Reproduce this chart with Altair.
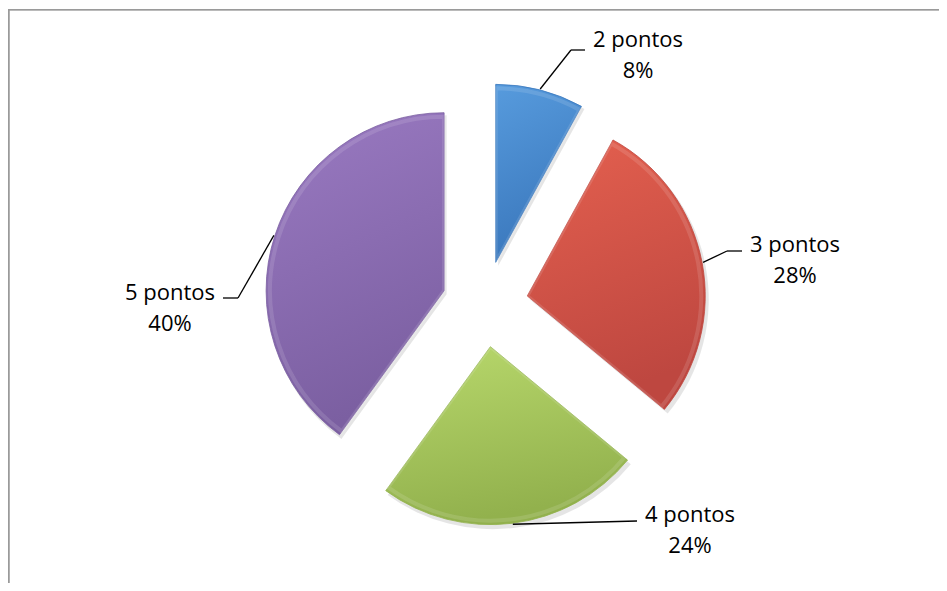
import altair as alt
import pandas as pd

# ---- data ----
categories = ["2 pontos", "3 pontos", "4 pontos", "5 pontos"]
percents = [8, 28, 24, 40]
pct_labels = ["8%", "28%", "24%", "40%"]

# ---- colours (light top, dark bottom) ----
top_colors = ["#579BDD", "#E4604F", "#B8D86C", "#9A7AC2"]
bottom_colors = ["#3A77BC", "#BE4740", "#92B14D", "#7B5FA1"]

# ---- layout (chart coordinates) ----
W, H = 931, 575
CX, CY = 477, 296
R = 178
EXPLODE = 43
label_cx = [630, 787, 682, 162]
label_base = [39, 244, 514, 292]
leader_end = [577, 734, 629, 215]
leader_y = [42, 243, 513, 290]
elbow_dx = [-14, -15, 0, 15]

df = pd.DataFrame({
    "cat": categories,
    "pct": percents,
    "plab": pct_labels,
    "order": list(range(len(categories))),
    "lcx": label_cx,
    "lby": label_base,
    "lend": leader_end,
    "ly": leader_y,
    "edx": elbow_dx,
})

base = (
    alt.Chart(df)
    .transform_joinaggregate(total="sum(pct)")
    .transform_window(cum="sum(pct)", sort=[alt.SortField("order")])
    .transform_calculate(
        t0="(datum.cum - datum.pct) / datum.total * 2 * PI",
        t1="datum.cum / datum.total * 2 * PI",
    )
    .transform_calculate(mid="(datum.t0 + datum.t1) / 2")
    .transform_calculate(
        ax=f"{CX} + {EXPLODE} * sin(datum.mid)",
        ay=f"{CY} - {EXPLODE} * cos(datum.mid)",
    )
    .transform_calculate(
        sx="datum.ax + 2.5",
        sy="datum.ay + 3.5",
        lx0=f"datum.ax + {R + 1} * sin(datum.mid)",
        ly0=f"datum.ay - {R + 1} * cos(datum.mid)",
        ex="datum.lend + datum.edx",
        txt="datum.cat + '\\n' + datum.plab",
    )
)

def pos(xf, yf):
    return dict(
        x=alt.X(f"{xf}:Q", scale=None, axis=None),
        y=alt.Y(f"{yf}:Q", scale=None, axis=None),
    )

shadow = base.mark_arc(radius=R + 1, fill="#000000", opacity=0.10).encode(
    theta=alt.Theta("t0:Q", scale=None),
    theta2="t1:Q",
    **pos("sx", "sy"),
)

slices = []
for i, c in enumerate(categories):
    grad = alt.LinearGradient(
        gradient="linear",
        stops=[
            alt.GradientStop(color=top_colors[i], offset=0),
            alt.GradientStop(color=bottom_colors[i], offset=1),
        ],
        x1=0, x2=0.25, y1=0, y2=1,
    )
    slices.append(
        base.transform_filter(alt.datum.cat == c)
        .mark_arc(radius=R, fill=grad, stroke=bottom_colors[i], strokeWidth=0.8)
        .encode(theta=alt.Theta("t0:Q", scale=None), theta2="t1:Q", **pos("ax", "ay"))
    )

bevel = base.mark_arc(
    radius=R - 4, fill="transparent", stroke="#ffffff", strokeOpacity=0.12, strokeWidth=4
).encode(theta=alt.Theta("t0:Q", scale=None), theta2="t1:Q", **pos("ax", "ay"))

lead1 = base.mark_rule(color="#000000", strokeWidth=1.3).encode(
    x=alt.X("lx0:Q", scale=None, axis=None),
    y=alt.Y("ly0:Q", scale=None, axis=None),
    x2="ex:Q",
    y2="ly:Q",
)
lead2 = base.mark_rule(color="#000000", strokeWidth=1.3).encode(
    x=alt.X("ex:Q", scale=None, axis=None),
    y=alt.Y("ly:Q", scale=None, axis=None),
    x2="lend:Q",
    y2="ly:Q",
)

labels = base.mark_text(
    font="Open Sans", fontSize=22, lineBreak="\n", lineHeight=31,
    align="center", baseline="alphabetic", color="#000000",
).encode(text="txt:N", **pos("lcx", "lby"))

frame_top = alt.Chart(df).mark_rule(color="#9a9a9a", strokeWidth=1.4).encode(
    x=alt.value(0), x2=alt.value(W), y=alt.value(1.6)
)
frame_left = alt.Chart(df).mark_rule(color="#9a9a9a", strokeWidth=1.4).encode(
    x=alt.value(0.6), y=alt.value(1), y2=alt.value(H)
)

chart = (
    alt.layer(shadow, *slices, bevel, lead1, lead2, labels, frame_top, frame_left)
    .properties(
        width=W, height=H, autosize=alt.AutoSizeParams(type="none"),
        padding=0, background="#ffffff",
    )
    .configure_view(stroke=None, strokeWidth=0)
)

chart.save("out.html", embed_options={"renderer": "svg", "actions": False})
